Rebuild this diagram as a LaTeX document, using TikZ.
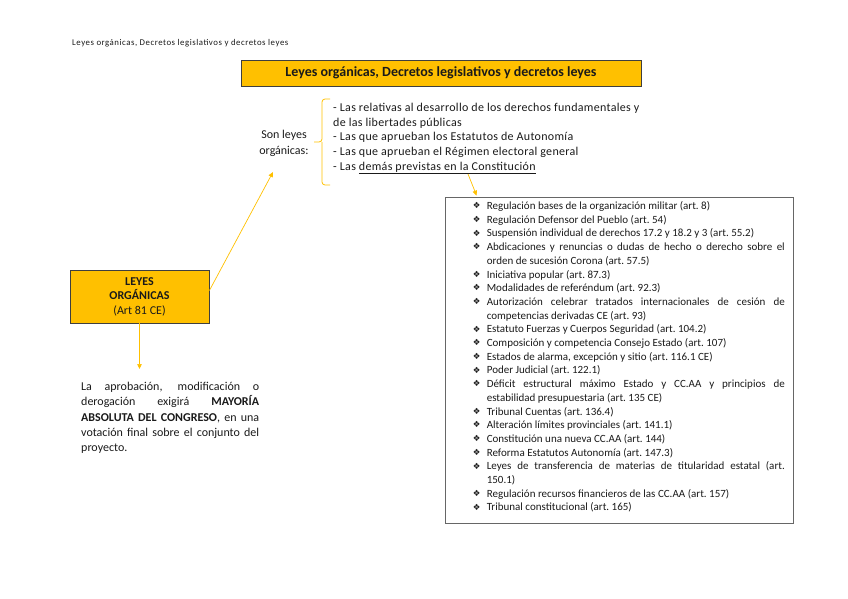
\documentclass[tikz,border=0pt]{standalone}
\usepackage{fontspec}
\setmainfont{Carlito}
\newfontfamily\anchafont[LetterSpace=2.5]{Carlito}
\newfontfamily\cabfont[LetterSpace=6]{Carlito}
\newfontfamily\dingfont{DejaVu Sans}
\usetikzlibrary{arrows.meta,positioning}
\definecolor{oro}{HTML}{FFC000}
\definecolor{marco}{HTML}{3F3F3F}
\definecolor{texto}{HTML}{1A1A1A}
\newcommand{\artitem}[1]{\par\noindent\hangindent=14pt\hangafter=1%
    \makebox[14pt][l]{\raisebox{0.8pt}{\dingfont\fontsize{8.5}{9}\selectfont ❖}}#1}
\tikzset{%
    >={Triangle[length=5pt,width=4.5pt]},
    goldbox/.style={draw=marco,fill=oro,line width=0.8pt},
    greybox/.style={draw=black!60,line width=0.8pt},
    flecha/.style={->,draw=oro,line width=0.7pt},
    llave/.style={draw=oro,line width=0.8pt,rounded corners=3pt},
    every node/.style={text=texto,inner sep=0pt},
    txt12/.style={font=\fontsize{12}{14.7}\selectfont}
}

\begin{document}
\begin{tikzpicture}[x=1pt,y=-1pt]
            \useasboundingbox (0,0) rectangle (848,599);
            \node [anchor=west,font=\cabfont\fontsize{8.8}{10}\selectfont] (cabecera) at (72,43)
            {Leyes orgánicas, Decretos legislativos y decretos leyes};
            \node [goldbox,minimum width=400pt,minimum height=26pt,
            font=\bfseries\fontsize{14}{16}\selectfont] (titulo) at (441,73)
            {Leyes orgánicas, Decretos legislativos y decretos leyes};
            \node [align=center,font=\fontsize{12}{16}\selectfont] (sonleyes) at (284,143)
            {Son leyes\\orgánicas:};
            \node [txt12,anchor=north west,align=left,font=\anchafont\fontsize{12}{14.7}\selectfont]
            (lista-lo) at (333,103)
            {- Las relativas al desarrollo de los derechos fundamentales y\\
             de las libertades públicas\\
             - Las que aprueban los Estatutos de Autonomía\\
             - Las que aprueban el Régimen electoral general\\
             - Las \underline{demás previstas en la Constitución}};
            \draw[llave] (330,99) -| (322,142) -- (314,142) (322,142) |- (330,185);
            %%%%%
            \node [goldbox,minimum width=139pt,minimum height=53pt,align=center,
            font=\fontsize{12}{14.5}\selectfont] (leyesorg) at (139.5,296.5)
            {\textbf{LEYES}\\\textbf{ORGÁNICAS}\\(Art 81 CE)};
            \node [anchor=north west,text width=178pt,align=justify,
            font=\fontsize{12}{15.3}\selectfont] (mayoria) at (81,382)
            {La aprobación, modificación o\linebreak derogación exigirá \textbf{MAYORÍA}\linebreak
             \textbf{ABSOLUTA DEL CONGRESO}, en una\linebreak votación final sobre el conjunto del\linebreak
             proyecto.};
            %%%%%
            \node [greybox,minimum width=348pt,minimum height=326pt] (caja-art) at (619,360) {};
            \node [anchor=north west,text width=312pt,align=justify,
            font=\frenchspacing\fontsize{11}{13.7}\selectfont] (lista-art)
            at ([xshift=28pt,yshift=1pt]caja-art.north west)
            {\artitem{Regulación bases de la organización militar (art. 8)}
             \artitem{Regulación Defensor del Pueblo (art. 54)}
             \artitem{Suspensión individual de derechos 17.2 y 18.2 y 3 (art. 55.2)}
             \artitem{Abdicaciones y renuncias o dudas de hecho o derecho sobre el\linebreak orden de sucesión Corona (art. 57.5)}
             \artitem{Iniciativa popular (art. 87.3)}
             \artitem{Modalidades de referéndum (art. 92.3)}
             \artitem{Autorización celebrar tratados internacionales de cesión de\linebreak competencias derivadas CE (art. 93)}
             \artitem{Estatuto Fuerzas y Cuerpos Seguridad (art. 104.2)}
             \artitem{Composición y competencia Consejo Estado (art. 107)}
             \artitem{Estados de alarma, excepción y sitio (art. 116.1 CE)}
             \artitem{Poder Judicial (art. 122.1)}
             \artitem{Déficit estructural máximo Estado y CC.AA y principios de\linebreak estabilidad presupuestaria (art. 135 CE)}
             \artitem{Tribunal Cuentas (art. 136.4)}
             \artitem{Alteración límites provinciales (art. 141.1)}
             \artitem{Constitución una nueva CC.AA (art. 144)}
             \artitem{Reforma Estatutos Autonomía (art. 147.3)}
             \artitem{Leyes de transferencia de materias de titularidad estatal (art.\linebreak 150.1)}
             \artitem{Regulación recursos financieros de las CC.AA (art. 157)}
             \artitem{Tribunal constitucional (art. 165)}};
            %%%%%
            \coordinate (p-son) at (273,172);
            \coordinate (p-dem) at (468,174);
            \coordinate (p-mayoria) at (139.5,369);
            \draw[flecha] ([yshift=6pt]leyesorg.east) -- (p-son);
            \draw[flecha] (leyesorg.south) -- (p-mayoria);
            \draw[flecha] (p-dem) -- ([xshift=32pt,yshift=1pt]caja-art.north west);
\end{tikzpicture}
\end{document}
